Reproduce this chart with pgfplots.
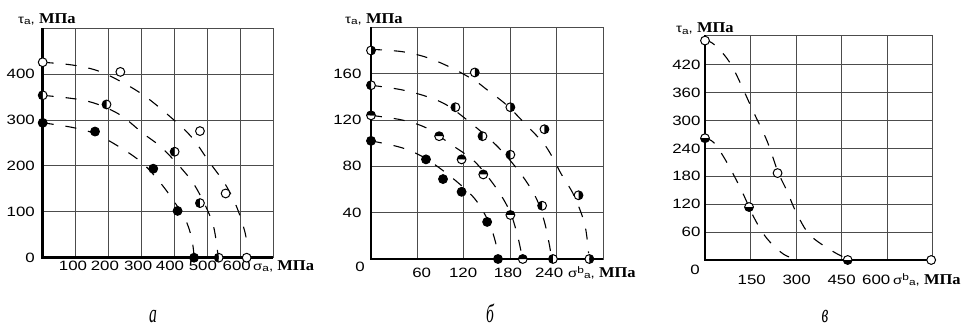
\documentclass[border=0pt]{standalone}
\usepackage{fontspec}
\setmainfont{Liberation Sans}[FakeStretch=1.25]
\newfontfamily\mpafont{Liberation Serif}[FakeStretch=1.1]
\newfontfamily\capfont{Liberation Serif}[FakeStretch=0.6]
\usepackage{pgfplots}
\pgfplotsset{compat=1.18}
\usetikzlibrary{plotmarks}

\newcommand\MPa{{\mpafont\bfseries\fontsize{15}{15}\selectfont МПа}}
\newcommand\gsm[1]{\fontsize{9.5}{9.5}\selectfont #1}
\newcommand\taulab{{\fontsize{12}{12}\selectfont τ\raisebox{-1.5pt}{\gsm{a}}, }\MPa}
\newcommand\siglab{{\fontsize{12}{12}\selectfont σ\raisebox{-1.5pt}{\gsm{a}}, }\MPa}
\newcommand\sigblab{{\fontsize{12}{12}\selectfont σ\raisebox{4pt}{\gsm{b}}\raisebox{-1.5pt}{\gsm{a}}, }\MPa}

\pgfplotsset{
  panel/.style={scale only axis, clip=false, anchor=south west,
    grid=major, major grid style={black!70, line width=0.9pt},
    axis line style={black!70, line width=0.9pt},
    major tick length=0pt,
    tick label style={font=\fontsize{13.5}{13.5}\selectfont},
    extra x tick style={grid=none, major tick length=0pt},
    /pgf/number format/assume math mode=true},
  curve/.style={black, line width=1.1pt, dash pattern=on 11pt off 12pt, smooth, tension=0.55, no marks},
  open/.style={only marks, mark=*, mark size=4.4pt, mark options={draw=black, fill=white, line width=1pt, solid}},
  full/.style={only marks, mark=*, mark size=4.4pt, mark options={draw=black, fill=black, line width=1pt, solid}},
  half/.style={only marks, mark=halfcircle*, mark size=4.4pt, mark options={draw=black, fill=white, mark color=black, line width=1pt, solid, rotate=#1}},
}

\begin{document}
\begin{tikzpicture}[x=1pt,y=1pt]
\path[use as bounding box] (0,0) rectangle (975,333);

% ---------- panel a ----------
\begin{axis}[panel, at={(42.7pt,75.3pt)}, width=230.3pt, height=229.4pt,
  xmin=0, xmax=700, ymin=0, ymax=500,
  xtick={100,200,...,600}, xticklabels={{},{},{},{},{},{}},
  extra x ticks={92,189,290,387,487,590}, extra x tick labels={100,200,300,400,500,600},
  ytick={0,100,...,400},
  yticklabel style={anchor=east, inner sep=0pt, xshift=-7.7pt},
  xticklabel style={anchor=base, inner sep=0pt, yshift=-12.3pt}]
\draw[line width=2.6pt, black] (rel axis cs:0,1) -- (rel axis cs:0,0) -- (rel axis cs:1,0);
\addplot[curve] coordinates {(0,426) (90,420) (165,408) (235,385) (305,355) (375,315) (450,265) (505,210) (555,160) (590,110) (615,55) (622,20)};
\addplot[curve] coordinates {(0,354) (100,346) (165,335) (236,311) (305,271) (366,237) (448,172) (490,120) (519,69) (532,10)};
\addplot[curve] coordinates {(0,294) (90,284) (160,270) (234,241) (305,205) (370,152) (430,88) (452,45) (460,5)};
\addplot[open] coordinates {(0,426) (236,405) (478,276) (556,140) (620,0)};
\addplot[half=-90] coordinates {(0,354) (194,334) (401,231) (478,119) (535,0)};
\addplot[full] coordinates {(0,294) (159,275) (336,194) (410,102) (460,0)};
\end{axis}

% ---------- panel b ----------
\begin{axis}[panel, at={(371pt,74pt)}, width=232.3pt, height=231.7pt,
  xmin=0, xmax=300, ymin=0, ymax=200,
  xtick={60,120,180,240}, xticklabels={{},{},{},{}},
  extra x ticks={65.5,119,177,230}, extra x tick labels={60,120,180,240},
  ytick={40,80,120,160},
  yticklabel style={anchor=east, inner sep=0pt, xshift=-9.3pt},
  xticklabel style={anchor=base, inner sep=0pt, yshift=-18pt}]
\draw[line width=2.6pt, black] (rel axis cs:0,1) -- (rel axis cs:0,0) -- (rel axis cs:1,0);
\addplot[curve] coordinates {(0,181) (40,179) (72,174) (104,165) (134,154) (150,146) (175,133) (200,116) (226,97) (246,73) (262,55) (276,30) (281,5)};
\addplot[curve] coordinates {(0,150) (40,146) (73,140) (100,132) (135,114) (165,96) (193,74) (213,53) (224,32) (231,10) (233,0)};
\addplot[curve] coordinates {(0,124) (40,120) (72,113) (103,99) (134,84) (162,61) (180,40) (190,18) (195,2)};
\addplot[curve] coordinates {(0,102) (40,96) (70,87) (105,70) (134,52) (152,32) (161,14) (164,2)};
\addplot[half=90] coordinates {(0,180) (134,161) (180,131) (224,112) (268,55) (282,0)};
\addplot[half=-90] coordinates {(0,150) (109,131) (144,106) (180,90) (221,46) (235,0)};
\addplot[half=180] coordinates {(0,124) (88,106) (117,86) (145,73) (180,38) (196,0)};
\addplot[full] coordinates {(0,102) (71,86) (93,69) (117,58) (150,32) (164,0)};
\end{axis}

% ---------- panel c ----------
\begin{axis}[panel, at={(705pt,73pt)}, width=227.7pt, height=225pt,
  xmin=0, xmax=750, ymin=0, ymax=484,
  xtick={150,300,450,600}, xticklabels={{},{},{},{}},
  extra x ticks={154,302,450,564}, extra x tick labels={150,300,450,600},
  ytick={60,120,...,420},
  yticklabel style={anchor=east, inner sep=0pt, xshift=-4.3pt},
  xticklabel style={anchor=base, inner sep=0pt, yshift=-24pt}]
\draw[line width=2.6pt, black] (rel axis cs:0,1) -- (rel axis cs:0,0) -- (rel axis cs:1,0);
\addplot[curve] coordinates {(0,474) (33,462) (88,418) (160,318) (205,255) (240,190) (269,150) (300,103) (345,54) (420,19) (470,2)};
\addplot[curve] coordinates {(0,262) (30,252) (72,210) (120,150) (160,93) (195,54) (230,28) (265,10) (300,2)};
\addplot[open] coordinates {(0,472) (239,187) (745,0)};
\addplot[half=0] coordinates {(0,262) (145,114) (470,0)};
\end{axis}

% ---------- labels ----------
\node[anchor=base west, inner sep=0pt] at (18,309.7) {\taulab};
\node[anchor=base west, inner sep=0pt] at (345,309.7) {\taulab};
\node[anchor=base west, inner sep=0pt] at (676,300.3) {\taulab};
\node[anchor=base west, inner sep=0pt] at (253,63) {\siglab};
\node[anchor=base west, inner sep=0pt] at (568,56) {\sigblab};
\node[anchor=base west, inner sep=0pt] at (893,49) {\sigblab};
\node[anchor=east, inner sep=0pt, font=\fontsize{13.5}{13.5}\selectfont] at (365,66.3) {0};
\node[anchor=east, inner sep=0pt, font=\fontsize{13.5}{13.5}\selectfont] at (700,63) {0};
\node[anchor=base, inner sep=0pt, font=\capfont\itshape\fontsize{26}{26}\selectfont] at (153,11) {а};
\node[anchor=base, inner sep=0pt, font=\capfont\itshape\fontsize{26}{26}\selectfont] at (490,11) {б};
\node[anchor=base, inner sep=0pt, font=\capfont\itshape\fontsize{26}{26}\selectfont] at (825,11) {в};
\end{tikzpicture}
\end{document}
